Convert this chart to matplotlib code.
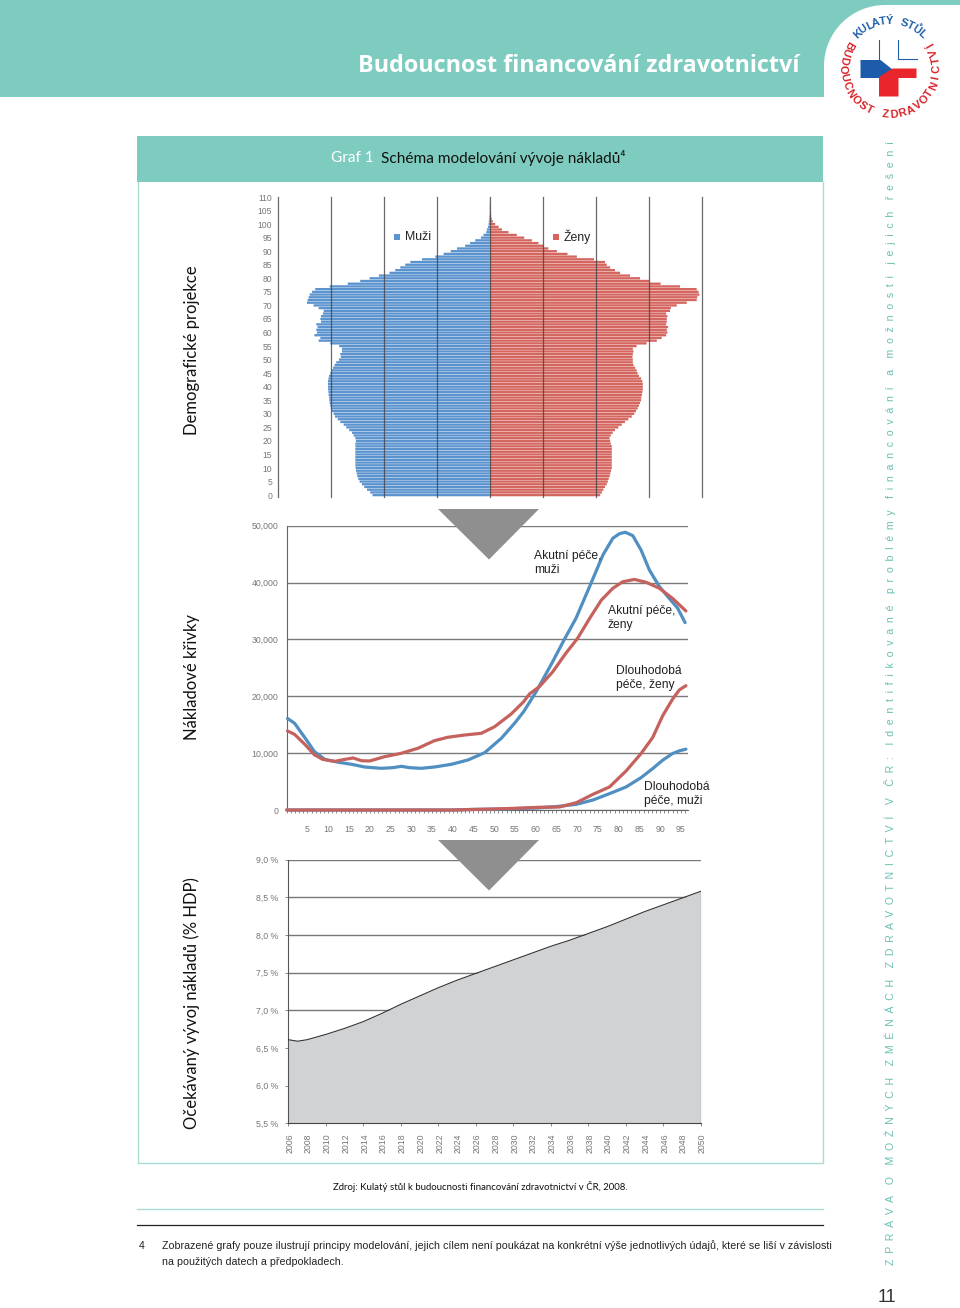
import numpy as np
import matplotlib
matplotlib.use("Agg")
import matplotlib.pyplot as plt
from matplotlib.patches import Polygon, Rectangle, Ellipse
from matplotlib.transforms import ScaledTranslation

# ---------- data ----------
ages = list(range(0, 111))
men = [55.3,56.4,57.9,59.2,60.3,61.4,62.0,62.5,62.8,63.1,63.3,63.4,63.4,63.4,63.4,63.4,63.4,63.4,63.4,63.4,
       63.1,63.4,64.2,65.0,66.3,67.7,68.9,70.5,71.7,73.0,73.6,74.4,74.9,75.2,75.5,75.7,75.8,76.0,76.1,76.3,
       76.3,76.3,76.3,76.1,75.8,75.2,74.6,73.9,73.2,72.4,71.1,70.2,70.5,69.7,69.7,71.0,75.2,80.7,79.9,82.7,
       81.5,81.8,81.2,81.8,79.6,79.9,79.6,78.7,78.3,80.7,83.1,86.2,85.9,85.4,84.9,83.8,82.3,75.5,67.0,61.1,
       56.7,52.3,47.3,44.6,42.2,39.9,37.5,32.0,25.7,21.8,18.4,15.5,11.6,9.3,6.9,4.2,3.0,1.7,1.4,0.9,
       0.6,0.5,0.3,0.2,0.1,0.1,0.1,0.1,0.0,0.0,0.0]
women = [52.0,52.8,53.5,54.3,55.1,55.6,56.0,56.5,56.8,57.1,57.5,57.5,57.5,57.5,57.5,57.5,57.5,57.5,57.5,57.0,
         56.7,56.4,57.0,57.9,59.0,60.6,62.2,63.7,65.3,66.9,68.1,68.9,69.7,70.3,70.8,71.3,71.4,71.7,71.9,72.1,
         72.1,72.1,71.9,71.3,70.3,69.6,69.2,68.5,67.7,67.4,67.4,67.2,67.4,67.7,67.4,69.2,73.9,78.7,81.0,83.1,
         83.7,83.4,84.0,83.1,83.4,83.4,83.7,83.1,84.9,85.3,88.1,92.8,97.5,97.8,98.8,98.4,97.5,89.6,80.5,75.2,
         70.8,66.1,61.4,59.0,56.7,55.1,54.3,49.1,41.0,36.6,31.6,27.6,25.3,22.9,19.8,16.2,12.7,8.8,5.7,4.1,
         2.5,1.4,0.9,0.6,0.5,0.3,0.2,0.2,0.1,0.1,0.1]
pyr_ticks = list(range(0, 111, 5))

am_age = [0.2,1.9,4.3,6.7,9.2,12.4,15.6,18.8,22.8,25.6,27.6,29.6,32.4,35.6,39.7,43.7,47.7,51.7,54.9,57.1,60.1,64.1,66.9,69.7,73.4,76.2,78.6,80.2,81.6,83.4,85.4,87.4,89.8,92.2,94.2,96]
am_val = [16100,15250,12800,10250,8900,8400,8040,7560,7330,7450,7680,7450,7330,7560,8040,8800,10080,12600,15250,17300,20800,26100,30000,33700,40000,44850,47800,48600,48850,48250,45700,42200,39300,37200,35500,32950]
af_age = [0.2,1.9,4.3,6.7,8.7,11.6,13.6,16,18,20,23.6,27.6,31.6,35.6,38.8,42.9,46.9,50.1,54.1,57.1,58.5,60.9,64.1,67.3,70.1,73,75.8,78.6,81,83.8,86.6,89.8,93,96.2]
af_val = [13900,13300,11600,9700,8900,8550,8850,9150,8670,8620,9380,9970,10850,12190,12790,13190,13490,14650,16890,19050,20400,21700,24300,27600,30200,33700,36900,39000,40150,40550,40050,39000,37200,35000]
lf_age = [0,20,40,45,50,55,60.9,65.7,69.8,73.8,77.8,81.8,85.4,88.2,90.6,93,94.6,96.2]
lf_val = [0,0,0,100,180,300,475,530,1290,2760,4060,6880,9940,12760,16580,19520,21110,21870]
lm_age = [0,20,40,45,50,55,60,65,69.8,73.8,77.8,81.8,85.4,88.2,90.6,93,94.6,96.2]
lm_val = [0,0,0,100,150,250,350,600,1000,1760,2880,4060,5700,7290,8760,9940,10400,10700]
cost_ticks = [0,10000,20000,30000,40000,50000]
cost_labels = ["0","10,000","20,000","30,000","40,000","50,000"]
age_ticks = list(range(5, 96, 5))

years = [2006,2007,2008,2010,2012,2014,2016,2018,2020,2022,2024,2026,2028,2030,2032,2034,2036,2038,2040,2042,2044,2046,2048,2050]
gdp = [6.61,6.59,6.61,6.68,6.76,6.85,6.96,7.08,7.19,7.30,7.40,7.49,7.58,7.67,7.76,7.85,7.93,8.02,8.11,8.21,8.31,8.40,8.49,8.58]
gdp_ticks = [5.5,6.0,6.5,7.0,7.5,8.0,8.5,9.0]
gdp_labels = ["5,5 %","6,0 %","6,5 %","7,0 %","7,5 %","8,0 %","8,5 %","9,0 %"]
year_labels = list(range(2006, 2051, 2))
year_marks = list(range(2006, 2051, 4))

# ---------- helpers ----------
W, H = 960, 1308
TEAL = "#7dccbf"
LIGHT = "#a9dcd2"
GREY = "#777777"
SANS = ["Liberation Sans", "DejaVu Sans"]
HUM = ["Lato", "DejaVu Sans"]

fig = plt.figure(figsize=(W/100, H/100), dpi=100, facecolor="white")

def axes_px(x0, y0, x1, y1, **kw):
    return fig.add_axes([x0/W, 1-y1/H, (x1-x0)/W, (y1-y0)/H], **kw)

bg = axes_px(0, 0, W, H, zorder=0)
bg.set_xlim(0, W); bg.set_ylim(H, 0); bg.axis("off")
top = axes_px(0, 0, W, H, zorder=10)
top.set_xlim(0, W); top.set_ylim(H, 0); top.axis("off"); top.patch.set_alpha(0)

# ---------- page furniture ----------
bg.add_patch(Rectangle((0, 0), W, 97, color=TEAL, lw=0))
bg.add_patch(Rectangle((885, 5), 75, 95, color="white", lw=0))
bg.add_patch(Rectangle((824, 66), 70, 34, color="white", lw=0))
bg.add_patch(Ellipse((885, 66), 122, 122, color="white", lw=0))
bg.text(800, 66, "Budoucnost financování zdravotnictví", color="white", ha="right", va="center",
        family=["Open Sans", "DejaVu Sans"], weight="bold", fontsize=16.8)

bg.add_patch(Rectangle((137, 136), 686, 46, color=TEAL, lw=0))
bg.plot([137.5, 137.5, 823, 823], [182, 1163, 1163, 182], color=LIGHT, lw=1)
bg.text(331, 158, "Graf 1", color="white", ha="left", va="center", family=HUM, fontsize=11.1)
bg.text(381, 158, "Schéma modelování vývoje nákladů⁴", color="#111111", ha="left", va="center", family=HUM, fontsize=11.1)

for y, s in [(350, "Demografické projekce"), (676.5, "Nákladové křivky"), (1003.5, "Očekávaný vývoj nákladů (% HDP)")]:
    bg.text(192, y, s, rotation=90, ha="center", va="center", family=HUM, fontsize=12, color="#111111")

bg.text(333, 1186, "Zdroj: Kulatý stůl k budoucnosti financování zdravotnictví v ČR, 2008.",
        ha="left", va="center", family=HUM, fontsize=6.9, color="#111111")
bg.plot([137, 823], [1209, 1209], color=LIGHT, lw=1)
bg.plot([137, 823], [1225, 1225], color="#222222", lw=0.9)
bg.text(139, 1246, "4", ha="left", va="center", family=SANS, fontsize=7.65, color="#222222")
bg.text(162, 1246, "Zobrazené grafy pouze ilustrují principy modelování, jejich cílem není poukázat na konkrétní výše jednotlivých údajů, které se liší v závislosti",
        ha="left", va="center", family=SANS, fontsize=7.65, color="#222222")
bg.text(162, 1262, "na použitých datech a předpokladech.", ha="left", va="center", family=SANS, fontsize=7.65, color="#222222")
bg.text(887, 1298, "11", ha="center", va="center", family=SANS, fontsize=13, color="#333333")

side = ("Z  P  R  Á  V  A    O    M  O  Ž  N  Ý  C  H    Z  M  Ě  N  Á  C  H    "
        "Z  D  R  A  V  O  T  N  I  C  T  V  Í    V    Č  R  :    "
        "I  d  e  n  t  i  f  i  k  o  v  a  n  é    p  r  o  b  l  é  m  y    "
        "f  i  n  a  n  c  o  v  á  n  í    a    m  o  ž  n  o  s  t  i    "
        "j  e  j  i  c  h    ř  e  š  e  n  í")
bg.text(890, 1265, side, rotation=90, ha="center", va="bottom", color="#68c0b2", family=SANS, fontsize=7.6)

# ---------- logo ----------
cx, cy, R = 890, 68, 47
def arc_text(s, a0, a1, color, ccw):
    for ch, a in zip(s, np.linspace(a0, a1, len(s))):
        if ch == " ":
            continue
        r = np.deg2rad(a)
        rot = a + 90 if ccw else a - 90
        top.text(cx + R*np.cos(r), cy - R*np.sin(r), ch, rotation=rot, rotation_mode="anchor",
                 ha="center", va="center", color=color, family=SANS, weight="bold", fontsize=8)
arc_text("BUDOUCNOST ZDRAVOTNICTVÍ", 150, 390, "#d8232a", True)
arc_text("KULATÝ STŮL", 133, 47, "#1f5fa8", False)
bg.add_patch(Polygon([(860.5,60),(880.5,60),(892.5,69.5),(880.5,78),(860.5,78)], color="#1c5cab", lw=0))
bg.add_patch(Polygon([(879,77),(892.5,68.5),(916.5,68.5),(916.5,78),(898.5,78),(898.5,96.5),(879,96.5)], color="#e8262b", lw=0))
bg.plot([879, 879], [40, 59], color="#1f5fa8", lw=0.8)
bg.plot([897.5, 897.5, 917], [40, 59, 59], color="#1f5fa8", lw=0.8)

# ---------- pyramid ----------
ax1 = axes_px(277.7, 197, 702, 497, zorder=2)
ax1.set_xlim(-100, 100); ax1.set_ylim(-0.7, 110)
bars_m = ax1.barh(ages, [-v for v in men], height=0.86, color="#5b93cf", lw=0, zorder=2)
bars_w = ax1.barh(ages, women, height=0.86, color="#d4655f", lw=0, zorder=2)
for b in list(bars_m) + list(bars_w):
    b.set_snap(False)
ax1.set_xticks(range(-100, 101, 25))
ax1.xaxis.grid(True, color="#444444", lw=0.9, alpha=0.8, zorder=3, clip_on=False)
ax1.set_axisbelow(False)
ax1.tick_params(axis="x", length=0, labelbottom=False)
ax1.set_yticks(pyr_ticks)
ax1.tick_params(axis="y", length=0, labelsize=6.2, labelcolor=GREY, pad=4)
for l in ax1.get_yticklabels():
    l.set_fontfamily(SANS)
for s in ax1.spines.values():
    s.set_visible(False)
ax1.patch.set_alpha(0)
top.add_patch(Rectangle((393.5, 233.5), 6, 6, color="#5b93cf", lw=0))
top.text(405, 237, "Muži", ha="left", va="center", family=SANS, fontsize=8.8, color="#222222")
top.add_patch(Rectangle((552.5, 233.5), 6, 6, color="#d4655f", lw=0))
top.text(564, 237, "Ženy", ha="left", va="center", family=SANS, fontsize=8.8, color="#222222")

# ---------- cost curves ----------
ax2 = axes_px(286.7, 525.7, 688, 810, zorder=2)
ax2.set_xlim(0, 96.7); ax2.set_ylim(0, 50000)
ax2.set_yticks(cost_ticks); ax2.set_yticklabels(cost_labels)
ax2.yaxis.grid(True, color="#7a7a7a", lw=1, zorder=1)
ax2.set_axisbelow(True)
ax2.tick_params(axis="y", length=0, labelsize=6.3, labelcolor=GREY, pad=6)
ax2.set_xticks(age_ticks)
ax2.set_xticks(range(0, 97), minor=True)
ax2.tick_params(axis="x", which="major", length=2, width=0.6, color="#777777", labelsize=6.3, labelcolor=GREY, pad=8.5)
ax2.tick_params(axis="x", which="minor", length=2, width=0.6, color="#777777")
for l in ax2.get_xticklabels() + ax2.get_yticklabels():
    l.set_fontfamily(SANS)
for k in ("top", "right"):
    ax2.spines[k].set_visible(False)
ax2.spines["left"].set_color("#666666"); ax2.spines["bottom"].set_color("#666666")
for a, v, c in [(lm_age, lm_val, "#4f8fc2"), (lf_age, lf_val, "#c5625e"), (am_age, am_val, "#4f8fc2"), (af_age, af_val, "#c5625e")]:
    ax2.plot(a, v, color=c, lw=2.3, solid_joinstyle="round", solid_capstyle="round", clip_on=False, zorder=3)

for x, y, s in [(534, 563, "Akutní péče,\nmuži"), (608, 618, "Akutní péče,\nženy"),
                (616, 678, "Dlouhodobá\npéče, ženy"), (644, 794, "Dlouhodobá\npéče, muži")]:
    top.text(x, y, s, ha="left", va="center", family=SANS, fontsize=8.7, color="#222222", linespacing=1.12)

# ---------- GDP area ----------
ax3 = axes_px(288.3, 859.7, 700.7, 1123.3, zorder=2)
ax3.set_xlim(2006, 2050); ax3.set_ylim(5.5, 9.0)
ax3.set_yticks(gdp_ticks); ax3.set_yticklabels(gdp_labels)
ax3.yaxis.grid(True, color="#777777", lw=1, zorder=1)
ax3.set_axisbelow(True)
ax3.fill_between(years, gdp, 5.5, color="#d1d2d4", lw=0, zorder=2)
ax3.plot(years, gdp, color="#333333", lw=0.8, zorder=3)
ax3.plot([2050, 2050], [5.5, gdp[-1]], color="#444444", lw=0.8, zorder=3)
ax3.tick_params(axis="y", length=2, width=0.6, color="#777777", labelsize=6.3, labelcolor=GREY, pad=5)
ax3.set_xticks(year_labels)
ax3.set_xticklabels([str(y) for y in year_labels], rotation=90)
ax3.tick_params(axis="x", length=0, labelsize=6.3, labelcolor=GREY, pad=7)
ax3.vlines(year_marks, 5.5, 5.47, color="#777777", lw=0.6, clip_on=False)
shift = ScaledTranslation(1.5/100, 0, fig.dpi_scale_trans)
for l in ax3.get_xticklabels():
    l.set_transform(l.get_transform() + shift)
for l in ax3.get_xticklabels() + ax3.get_yticklabels():
    l.set_fontfamily(SANS)
for k in ("top", "right"):
    ax3.spines[k].set_visible(False)
ax3.spines["left"].set_color("#555555"); ax3.spines["bottom"].set_color("#444444")
ax3.patch.set_alpha(0)

# ---------- flow triangles ----------
for ytop in (509, 840):
    top.add_patch(Polygon([(438, ytop), (539, ytop), (489, ytop+50.5)], color="#8f8f8f", lw=0))

fig.savefig("out.png", dpi=100, facecolor="white")
